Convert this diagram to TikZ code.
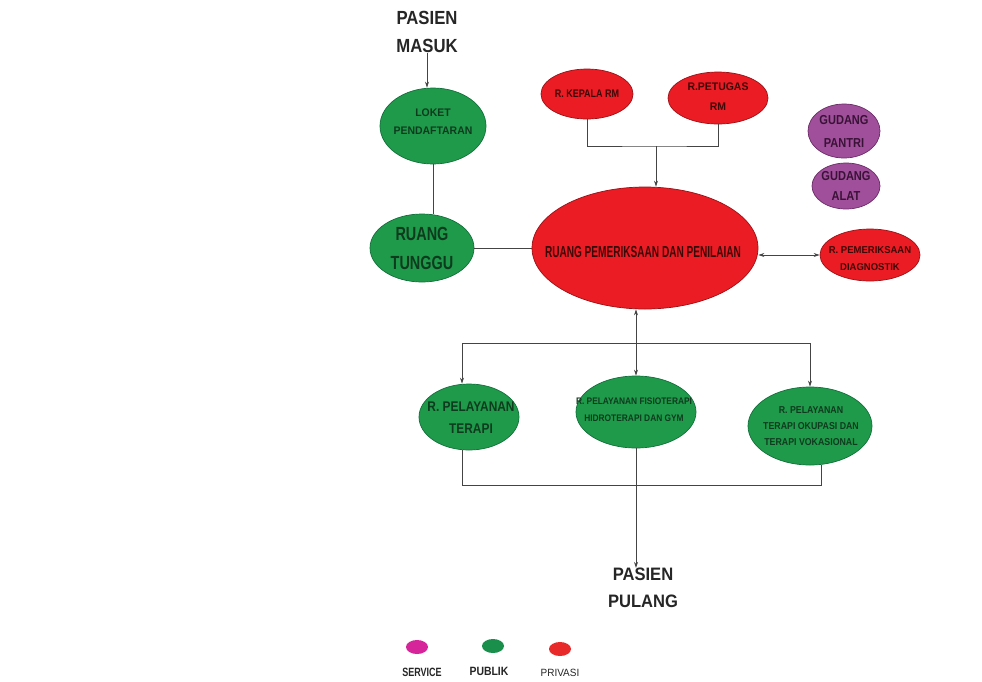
\documentclass[tikz,border=0pt]{standalone}
\usepackage{graphicx}
\usepackage{fontspec}
\setmainfont{Liberation Sans}
\usetikzlibrary{shapes.geometric,arrows.meta}

% horizontally condensed text
\newcommand{\hs}[2]{\scalebox{#1}[1]{#2}}

\definecolor{pubfill}{HTML}{1F9A4B}
\definecolor{pubedge}{HTML}{12703A}
\definecolor{pubtext}{HTML}{0E3B1D}
\definecolor{privfill}{HTML}{EC1C24}
\definecolor{privedge}{HTML}{9A1015}
\definecolor{privtext}{HTML}{3D0808}
\definecolor{svcfill}{HTML}{A0509A}
\definecolor{svcedge}{HTML}{6A2A66}
\definecolor{svctext}{HTML}{3A1238}
\definecolor{legsvc}{HTML}{D6249A}
\definecolor{legpub}{HTML}{1A8F4C}
\definecolor{legpriv}{HTML}{E82A2A}
\definecolor{wire}{HTML}{444444}

\tikzset{
  room/.style={ellipse, inner sep=0pt, line width=0.7pt},
  pub/.style={room, fill=pubfill, draw=pubedge},
  priv/.style={room, fill=privfill, draw=privedge},
  svc/.style={room, fill=svcfill, draw=svcedge},
  txt/.style={inner sep=0pt, align=center, font=\bfseries},
  link/.style={draw=wire, line width=0.8pt},
  flow/.style={link, -{Stealth[length=6pt,width=4pt]}},
  both/.style={link, {Stealth[length=6pt,width=4pt]}-{Stealth[length=6pt,width=4pt]}},
  dot/.style={ellipse, inner sep=0pt, minimum width=22pt, minimum height=14pt},
}

\begin{document}
\begin{tikzpicture}[x=1pt,y=-1pt]
\useasboundingbox[fill=white] (0,0) rectangle (982,681);

% entry / exit labels
\node[txt, text=black!85, font=\bfseries\fontsize{19}{28}\selectfont] (masuk) at (427,32) {\hs{0.88}{PASIEN}\\\hs{0.88}{MASUK}};
\node[txt, text=black!85, font=\bfseries\fontsize{18}{27}\selectfont] (pulang) at (643,588) {\hs{0.92}{PASIEN}\\\hs{0.92}{PULANG}};

% rooms
\node[pub, minimum width=106pt, minimum height=76pt] (loket) at (433,126) {};
\node[txt, text=pubtext, font=\bfseries\fontsize{11}{18}\selectfont] (loket-t) at (433,122) {\hs{0.95}{LOKET}\\\hs{0.95}{PENDAFTARAN}};

\node[pub, minimum width=104pt, minimum height=68pt] (tunggu) at (422,248) {};
\node[txt, text=pubtext, font=\bfseries\fontsize{19}{29}\selectfont] (tunggu-t) at (tunggu) {\hs{0.76}{RUANG}\\\hs{0.76}{TUNGGU}};

\node[priv, minimum width=226pt, minimum height=122pt] (main) at (645,248) {};
\node[txt, text=privtext, font=\bfseries\fontsize{16}{20}\selectfont] (main-t) at (643,252) {\hs{0.63}{RUANG PEMERIKSAAN DAN PENILAIAN}};

\node[priv, minimum width=92pt, minimum height=50pt] (kepala) at (587,94) {};
\node[txt, text=privtext, font=\bfseries\fontsize{11}{14}\selectfont] (kepala-t) at (kepala) {\hs{0.82}{R. KEPALA RM}};

\node[priv, minimum width=100pt, minimum height=52pt] (petugas) at (718,98) {};
\node[txt, text=privtext, font=\bfseries\fontsize{11}{20}\selectfont] (petugas-t) at (718,97) {\hs{0.95}{R.PETUGAS}\\\hs{0.95}{RM}};

\node[svc, minimum width=72pt, minimum height=54pt] (pantri) at (844,131) {};
\node[txt, text=svctext, font=\bfseries\fontsize{13}{23}\selectfont] (pantri-t) at (pantri) {\hs{0.85}{GUDANG}\\\hs{0.85}{PANTRI}};

\node[svc, minimum width=68pt, minimum height=46pt] (alat) at (846,186) {};
\node[txt, text=svctext, font=\bfseries\fontsize{13}{20}\selectfont] (alat-t) at (alat) {\hs{0.85}{GUDANG}\\\hs{0.85}{ALAT}};

\node[priv, minimum width=100pt, minimum height=52pt] (diag) at (870,255) {};
\node[txt, text=privtext, font=\bfseries\fontsize{10}{17}\selectfont] (diag-t) at (870,259) {\hs{0.95}{R. PEMERIKSAAN}\\\hs{0.95}{DIAGNOSTIK}};

\node[pub, minimum width=100pt, minimum height=66pt] (terapi) at (469,417) {};
\node[txt, text=pubtext, font=\bfseries\fontsize{14}{22}\selectfont] (terapi-t) at (471,418) {\hs{0.85}{R. PELAYANAN}\\\hs{0.85}{TERAPI}};

\node[pub, minimum width=120pt, minimum height=72pt] (fisio) at (636,412) {};
\node[txt, text=pubtext, font=\bfseries\fontsize{9.5}{17}\selectfont] (fisio-t) at (634,410) {\hs{0.88}{R. PELAYANAN FISIOTERAPI}\\\hs{0.88}{HIDROTERAPI DAN GYM}};

\node[pub, minimum width=124pt, minimum height=78pt] (okupasi) at (810,426) {};
\node[txt, text=pubtext, font=\bfseries\fontsize{10}{16}\selectfont] (okupasi-t) at (811,426) {\hs{0.88}{R. PELAYANAN}\\\hs{0.88}{TERAPI OKUPASI DAN}\\\hs{0.88}{TERAPI VOKASIONAL}};

% entry chain
\draw[flow] (masuk.south) -- (masuk.south |- loket.north);
\draw[link] (loket.south) -- (loket.south |- tunggu.north);
\draw[link] (tunggu.east) -- (main.west);

% records rooms feeding the examination room
\coordinate (rmjoin) at (656,146);
\draw[link] (kepala.south) |- (rmjoin) -| (petugas.south);
\draw[flow] (rmjoin) -- (rmjoin |- main.north);

% diagnostics
\draw[both] (diag.west -| main.east) -- (diag.west);

% therapy branches
\coordinate (splitL) at (462,343);
\coordinate (splitR) at (810,343);
\draw[both] (fisio.north |- main.south) -- (fisio.north);
\draw[link] (splitL) -- (splitR);
\draw[flow] (splitL) -- (splitL |- terapi.north);
\draw[flow] (splitR) -- (splitR |- okupasi.north);

% merge towards exit
\coordinate (mergeL) at (462,485);
\coordinate (mergeR) at (821,485);
\draw[link] (mergeL |- terapi.south) -- (mergeL) -- (mergeR) -- (mergeR |- okupasi.south);
\draw[flow] (fisio.south) -- (fisio.south |- pulang.north);

% legend
\node[dot, fill=legsvc] (leg-svc) at (417,647) {};
\node[dot, fill=legpub] (leg-pub) at (493,646) {};
\node[dot, fill=legpriv] (leg-priv) at (560,649) {};
\node[txt, text=black!85, font=\bfseries\fontsize{12}{14}\selectfont] (leg-svc-t) at (422,672) {\hs{0.75}{SERVICE}};
\node[txt, text=black!85, font=\bfseries\fontsize{12}{14}\selectfont] (leg-pub-t) at (489,671) {\hs{0.87}{PUBLIK}};
\node[txt, text=black!85, font=\fontsize{10.5}{14}\selectfont] (leg-priv-t) at (560,673) {\hs{0.95}{PRIVASI}};
\end{tikzpicture}
\end{document}
